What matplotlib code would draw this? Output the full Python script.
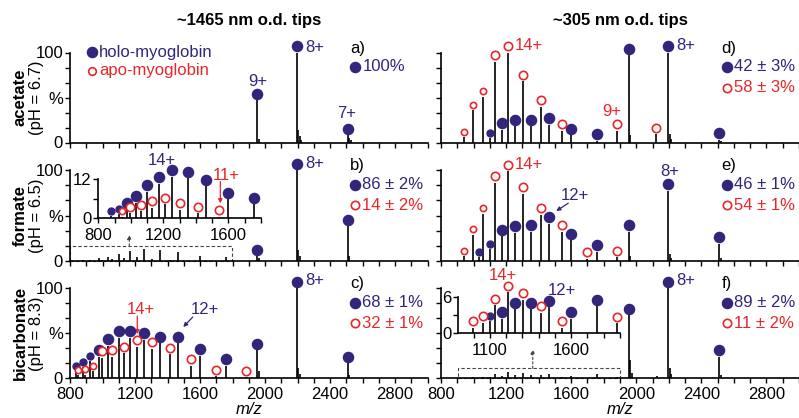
import matplotlib
matplotlib.use('Agg')
import matplotlib.pyplot as plt
import matplotlib.transforms as mtransforms
from matplotlib.patches import Rectangle

plt.rcParams['font.family'] = ['Liberation Sans', 'DejaVu Sans']
plt.rcParams['font.size'] = 12

NAVY = '#33247c'
RED = '#e8262a'

# charge states 21+ ... 7+ and their m/z
charges = [21, 20, 19, 18, 17, 16, 15, 14, 13, 12, 11, 10, 9, 8, 7]
holo_mz = [838, 879, 926, 977, 1034, 1099, 1172, 1256, 1352, 1465, 1598, 1758, 1953, 2197, 2511]
apo_mz = [808, 849, 893, 943, 998, 1060, 1131, 1212, 1305, 1414, 1542, 1696, 1884, 2120, 2423]

N = None
# relative intensities (%), aligned with charges
a_holo = [N, N, N, N, N, N, N, N, N, N, N, N, 47, 100, 8]
a_apo = [N] * 15
b_holo = [N, 0.7, 1.4, 2.8, 4.8, 8.2, 10.7, 12.8, 12.3, 9.8, 5.9, 4.4, 5, 100, 38]
b_apo = [N, N, N, 0.5, 1.6, 2.1, 3.3, 4.4, 2.6, 1.6, 0.5, N, N, N, N]
c_holo = [8, 13, 19, 24, 36, 45, 45, 43, 39, 39, 25, 14, 31, 100, 17]
c_apo = [N, 3.4, 4, 8, 23, 24, 28, 35, 33, 27, 14, 2.6, 1.4, N, N]
d_holo = [N, N, N, N, N, 5.5, 14, 18, 18, 20, 8, 2, 97, 100, 3]
d_apo = [N, N, N, 6, 36, 51, 90, 100, 68, 40, 13, N, 13, 9, N]
e_holo = [N, N, N, N, 4, 13, 27, 31, 32, 41, 23, 10, 32, 77, 19]
e_apo = [N, N, N, 5, 29, 52, 86, 99, 74, 51, 32, 2.5, 4, N, N]
f_holo = [N, N, N, N, N, 2.0, 2.4, 4.0, 4.0, 4.3, 2.4, 4.5, 70, 100, 24]
f_apo = [N, N, N, N, 0.9, 1.7, 4.7, 6.9, 5.6, 3.4, 0.9, N, 1.6, N, N]

# unassigned peaks (adduct tails etc.)
a_extra_mz = [1600, 1962, 2206, 2214, 2224, 2518, 2527]
a_extra_h = [1, 4, 14, 7, 3, 5, 3]
b_extra_mz = [1962, 2206, 2214, 2518]
b_extra_h = [3, 12, 5, 5]
c_extra_mz = [1962, 2206, 2214, 2518]
c_extra_h = [8, 12, 5, 4]
d_extra_mz = [1962, 2206, 2214, 2518]
d_extra_h = [8, 10, 4, 2]
e_extra_mz = [1962, 2206, 2214, 2518]
e_extra_h = [6, 8, 3, 3]
f_extra_mz = [1962, 1975, 2130, 2206, 2214, 2518]
f_extra_h = [20, 6, 3, 12, 5, 4]

holo_pct = {'a': '100%', 'b': '86 ± 2%', 'c': '68 ± 1%',
            'd': '42 ± 3%', 'e': '46 ± 1%', 'f': '89 ± 2%'}
apo_pct = {'b': '14 ± 2%', 'c': '32 ± 1%', 'd': '58 ± 3%',
           'e': '54 ± 1%', 'f': '11 ± 2%'}

row_names = ['acetate', 'formate', 'bicarbonate']
row_ph = ['(pH = 6.7)', '(pH = 6.5)', '(pH = 8.3)']
col_titles = ['~1465 nm o.d. tips', '~305 nm o.d. tips']

fig = plt.figure(figsize=(7.99, 4.18), dpi=100)
FW, FH = 799, 418
COLS = [(70, 357.5), (441, 358)]
ROWS = [(142.5, 0.90), (261.0, 0.91), (378.3, 0.90)]
YTOP = 118

DOT, DOT_S = 7.3, 5.0      # filled marker sizes (pt)
RING, RING_S = 6.0, 4.5    # open marker sizes (pt)


def sticks(ax, mz, h, lo=0, hi=1e9):
    xs = [m for m, v in zip(mz, h) if v is not None and lo <= m <= hi]
    ys = [v for m, v in zip(mz, h) if v is not None and lo <= m <= hi]
    ax.vlines(xs, 0, ys, color='k', lw=1.2)


def marks(ax, mz, h, filled, small_below=0, lo=0, hi=1e9):
    for m, v in zip(mz, h):
        if v is None or m < lo or m > hi:
            continue
        if filled:
            ms = DOT_S if m < small_below else DOT
            off = ms / 2 + 1.0
        else:
            ms = RING_S if m < small_below else RING
            off = ms / 2 + 1.6
        tr = ax.transData + mtransforms.ScaledTranslation(0, off / 72, fig.dpi_scale_trans)
        if filled:
            ax.plot(m, v, 'o', ms=ms, color=NAVY, transform=tr, clip_on=False, zorder=5)
        else:
            ax.plot(m, v, 'o', ms=ms, mfc='white', mec=RED, mew=1.2,
                    transform=tr, clip_on=False, zorder=5)


def style(ax, ybound, yticks, ylabels, xmajor, xminor, xlabels):
    for s in ['top', 'right']:
        ax.spines[s].set_visible(False)
    for s in ['left', 'bottom']:
        ax.spines[s].set_linewidth(1.2)
    ax.spines['left'].set_bounds(0, ybound)
    ax.set_yticks(yticks)
    ax.set_yticklabels(ylabels)
    ax.set_xticks(xmajor)
    ax.set_xticks(xminor, minor=True)
    if xlabels:
        ax.set_xticklabels([str(t) for t in xmajor])
    else:
        ax.set_xticklabels([])
    ax.tick_params(which='both', direction='out', length=3.5, width=1.0, pad=1.5,
                   labelsize=12)
    ax.tick_params(axis='x', pad=2.5)
    ax.set_facecolor('none')


axes = {}
letters = [['a', 'd'], ['b', 'e'], ['c', 'f']]
data = {'a': (a_holo, a_apo, a_extra_mz, a_extra_h), 'b': (b_holo, b_apo, b_extra_mz, b_extra_h),
        'c': (c_holo, c_apo, c_extra_mz, c_extra_h), 'd': (d_holo, d_apo, d_extra_mz, d_extra_h),
        'e': (e_holo, e_apo, e_extra_mz, e_extra_h), 'f': (f_holo, f_apo, f_extra_mz, f_extra_h)}
small_cut = {'a': 0, 'b': 950, 'c': 950, 'd': 1110, 'e': 1110, 'f': 1110}
main_lo = {'a': 0, 'b': 1800, 'c': 0, 'd': 0, 'e': 0, 'f': 1900}

pct_ticks = [0, 100 / 6, 200 / 6, 50, 400 / 6, 500 / 6, 100]
for r in range(3):
    y0, s = ROWS[r]
    for c in range(2):
        x0, w = COLS[c]
        L = letters[r][c]
        ax = fig.add_axes([x0 / FW, (FH - y0) / FH, w / FW, YTOP * s / FH])
        ax.set_xlim(800, 3000)
        ax.set_ylim(0, YTOP)
        holo, apo, exmz, exh = data[L]
        sticks(ax, exmz, exh)
        sticks(ax, holo_mz, holo)
        sticks(ax, apo_mz, apo)
        marks(ax, holo_mz, holo, True, small_cut[L], lo=main_lo[L])
        marks(ax, apo_mz, apo, False, small_cut[L], lo=main_lo[L])
        ylab = ['0', '', '', '%', '', '', '100'] if c == 0 else [''] * 7
        style(ax, 100, pct_ticks, ylab, list(range(800, 3000, 400)),
              list(range(800, 3001, 100)), r == 2)
        if r == 2:
            ax.set_xlabel('m/z', style='italic', labelpad=0, fontsize=12)
        # panel letter and percentages
        yt = ax.get_yaxis_transform()
        ax.text(0.783, 105, L + ')', transform=yt, va='center', ha='left', fontsize=12)
        ax.plot(0.798, 84, 'o', ms=DOT, color=NAVY, transform=yt, clip_on=False)
        ax.text(0.818, 84, holo_pct[L], transform=yt,
                va='center', ha='left', color=NAVY, fontsize=12)
        if L in apo_pct:
            ax.plot(0.798, 61, 'o', ms=RING, mfc='white', mec=RED, mew=1.2,
                    transform=yt, clip_on=False)
            ax.text(0.818, 61, apo_pct[L], transform=yt,
                    va='center', ha='left', color=RED, fontsize=12)
        axes[L] = ax
    # row labels
    bt = mtransforms.blended_transform_factory(fig.transFigure, axes[letters[r][0]].transData)
    fig.text(20 / FW, 50, row_names[r], transform=bt, rotation=90, ha='center', va='center',
             fontweight='bold', fontsize=12)
    fig.text(37 / FW, 50, row_ph[r], transform=bt, rotation=90, ha='center', va='center',
             fontsize=12)

for c in range(2):
    x0, w = COLS[c]
    fig.text((x0 + w / 2) / FW, (FH - 20) / FH, col_titles[c], ha='center', va='center',
             fontweight='bold', fontsize=12)

# legend in panel a
ax = axes['a']
yt = ax.get_yaxis_transform()
ax.plot(0.061, 100.5, 'o', ms=DOT, color=NAVY, transform=yt, clip_on=False)
ax.text(0.082, 100.5, 'holo-myoglobin', color=NAVY, transform=yt, va='center', fontsize=12)
ax.plot(0.061, 79.5, 'o', ms=5.5, mfc='white', mec=RED, mew=1.2, transform=yt, clip_on=False)
ax.text(0.082, 79.5, 'apo-myoglobin', color=RED, transform=yt, va='center', fontsize=12)
ax.text(1957, 68, '9+', color=NAVY, ha='center', va='center', fontsize=12)
ax.text(2246, 106, '8+', color=NAVY, ha='left', va='center', fontsize=12)
ax.text(2505, 32, '7+', color=NAVY, ha='center', va='center', fontsize=12)

# panel b
ax = axes['b']
ax.text(2246, 107.5, '8+', color=NAVY, ha='left', va='center', fontsize=12)
ax.add_patch(Rectangle((800, 0), 995, 16.5, fill=False, ls=(0, (3, 2)), lw=0.8,
                       ec='#444444', clip_on=False))
ax.annotate('', xy=(1165, 28.5), xytext=(1165, 16.5),
            arrowprops=dict(arrowstyle='-|>', ls=(0, (2, 2)), lw=0.8, color='#444444',
                            mutation_scale=6, shrinkA=0, shrinkB=0))
ins = fig.add_axes([98.3 / FW, (FH - 218.3) / FH, 162.5 / FW, 16 * 3.25 / FH])
ins.set_xlim(800, 1800)
ins.set_ylim(0, 16)
sticks(ins, holo_mz, b_holo, 800, 1800)
sticks(ins, apo_mz, b_apo, 800, 1800)
marks(ins, holo_mz, b_holo, True, small_cut['b'], 800, 1800)
marks(ins, apo_mz, b_apo, False, small_cut['b'], 800, 1800)
style(ins, 12, [0, 6, 12], ['0', '', '12'], [800, 1200, 1600],
      list(range(800, 1801, 100)), True)
ins.tick_params(axis='x', pad=3.5)
ins.text(1189, 17.9, '14+', color=NAVY, ha='center', va='center', fontsize=12)
ins.text(1590, 13.3, '11+', color=RED, ha='center', va='center', fontsize=12)
ins.annotate('', xy=(1551, 4.6), xytext=(1551, 11.3),
             arrowprops=dict(arrowstyle='-|>', lw=0.9, color=RED, mutation_scale=6,
                             shrinkA=0, shrinkB=0))

# panel c
ax = axes['c']
ax.text(2246, 109, '8+', color=NAVY, ha='left', va='center', fontsize=12)
ax.text(1237, 76, '14+', color=RED, ha='center', va='center', fontsize=12)
ax.annotate('', xy=(1214, 49), xytext=(1214, 69),
            arrowprops=dict(arrowstyle='-|>', lw=0.9, color=RED, mutation_scale=6,
                            shrinkA=0, shrinkB=0))
ax.text(1631, 76, '12+', color=NAVY, ha='center', va='center', fontsize=12)
ax.annotate('', xy=(1497, 57), xytext=(1555, 68),
            arrowprops=dict(arrowstyle='-|>', lw=0.9, color=NAVY, mutation_scale=6,
                            shrinkA=0, shrinkB=0))

# panel d
ax = axes['d']
ax.text(1255, 108, '14+', color=RED, ha='left', va='center', fontsize=12)
ax.text(2246, 108, '8+', color=NAVY, ha='left', va='center', fontsize=12)
ax.text(1852, 34, '9+', color=RED, ha='center', va='center', fontsize=12)

# panel e
ax = axes['e']
ax.text(1255, 106.5, '14+', color=RED, ha='left', va='center', fontsize=12)
ax.text(1625, 71.5, '12+', color=NAVY, ha='center', va='center', fontsize=12)
ax.annotate('', xy=(1508, 55), xytext=(1582, 63.5),
            arrowprops=dict(arrowstyle='-|>', lw=0.9, color=NAVY, mutation_scale=6,
                            shrinkA=0, shrinkB=0))
ax.text(2205, 98, '8+', color=NAVY, ha='center', va='center', fontsize=12)

# panel f
ax = axes['f']
ax.text(2246, 109, '8+', color=NAVY, ha='left', va='center', fontsize=12)
ax.add_patch(Rectangle((907, 0), 994, 11, fill=False, ls=(0, (3, 2)), lw=0.8,
                       ec='#444444', clip_on=False))
ax.annotate('', xy=(1364, 32), xytext=(1364, 11),
            arrowprops=dict(arrowstyle='-|>', ls=(0, (2, 2)), lw=0.8, color='#444444',
                            mutation_scale=6, shrinkA=0, shrinkB=0))
ins = fig.add_axes([458.3 / FW, (FH - 333) / FH, 161.5 / FW, 8.5 * 5.95 / FH])
ins.set_xlim(906, 1900)
ins.set_ylim(0, 8.5)
sticks(ins, holo_mz, f_holo, 906, 1900)
sticks(ins, apo_mz, f_apo, 906, 1900)
marks(ins, holo_mz, f_holo, True, small_cut['f'], 906, 1900)
marks(ins, apo_mz, f_apo, False, 0, 906, 1900)
style(ins, 6, [0, 3, 6], ['0', '', '6'], [1100, 1600],
      list(range(1000, 1901, 100)), True)
ins.tick_params(axis='x', pad=3.5)
ins.text(1178, 9.7, '14+', color=RED, ha='center', va='center', fontsize=12)
ins.text(1543, 7.1, '12+', color=NAVY, ha='center', va='center', fontsize=12)

fig.savefig('out.png', dpi=100)
